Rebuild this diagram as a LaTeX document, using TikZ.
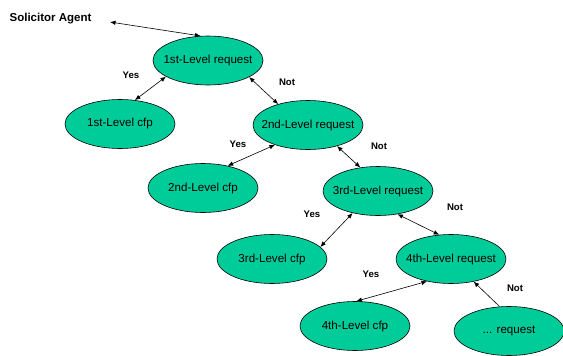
\documentclass[tikz,border=0pt]{standalone}
\usepackage{fontspec}
\setmainfont{Liberation Sans}
\usetikzlibrary{shapes.geometric,arrows.meta}
\definecolor{nodegreen}{HTML}{00CC99}
\tikzset{
  lvl/.style={ellipse, draw=black, line width=0.6pt, fill=nodegreen,
    minimum width=110pt, minimum height=49pt, inner sep=0pt,
    font=\fontsize{11.6}{14}\selectfont},
  lbl/.style={font=\fontsize{9.6}{11}\selectfont\bfseries, inner sep=0pt},
  link/.style={line width=0.6pt, {Latex[length=5.5pt,width=4.5pt]}-{Latex[length=5.5pt,width=4.5pt]}},
  onelink/.style={line width=0.6pt, -{Latex[length=5.5pt,width=4.5pt]}}
}
\newcommand{\zb}[1]{\makebox[0pt]{#1}}
\begin{document}
\begin{tikzpicture}[x=1pt,y=-1pt]
\useasboundingbox (0,0) rectangle (563,356);
\node[font=\fontsize{11.5}{14}\selectfont\bfseries, inner sep=0pt] (sa) at (50.5,19) {Solicitor Agent};
\coordinate (saend) at (110,22);

\node[lvl] (r1) at (208,60.5) {\zb{1st-Level request}};
\node[lvl] (c1) at (120,124) {\zb{1st-Level cfp}};
\node[lvl] (r2) at (308,125) {\zb{2nd-Level request}};
\node[lvl] (c2) at (203,188) {\zb{2nd-Level cfp}};
\node[lvl] (r3) at (378,191) {\zb{3rd-Level request}};
\node[lvl] (c3) at (272,259) {\zb{3rd-Level cfp}};
\node[lvl] (r4) at (451,259) {\zb{4th-Level request}};
\node[lvl] (c4) at (355,326) {\zb{4th-Level cfp}};
\node[lvl] (r5) at (509,331) {\zb{... request}};

\draw[link] (saend) -- (r1.107.7);
\draw[link] (r1.201.6) -- (c1.58);
\draw[link] (r1.338.9) -- (r2.145.5);
\draw[link] (r2.211.5) -- (c2.42.3);
\draw[link] (r2.324) -- (r3.127.7);
\draw[link] (r3.221.5) -- (c3.14);
\draw[link] (r3.310) -- (r4.116.6);
\draw[link] (r4.223.8) -- (c4.87.6);
\draw[onelink] (r5.111) -- (r4.315);

\node[lbl] (y1) at (131,75) {Yes};
\node[lbl] (n1) at (287,82) {Not};
\node[lbl] (y2) at (238,144) {Yes};
\node[lbl] (n2) at (379,146) {Not};
\node[lbl] (y3) at (312,214) {Yes};
\node[lbl] (n3) at (455,207) {Not};
\node[lbl] (y4) at (371,274) {Yes};
\node[lbl] (n4) at (515,288) {Not};
\end{tikzpicture}
\end{document}
